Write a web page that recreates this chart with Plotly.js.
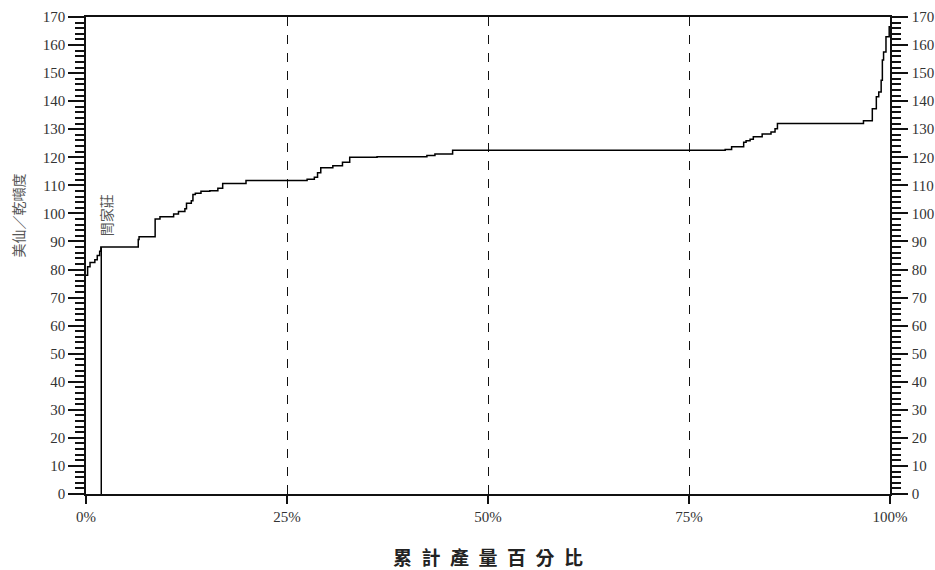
<!DOCTYPE html>
<html>
<head>
<meta charset="utf-8">
<script src="https://cdn.plot.ly/plotly-3.0.1.min.js"></script>
<style>html,body{margin:0;padding:0;background:#fff;}#chart{width:935px;height:570px;}</style>
</head>
<body>
<div id="chart"></div>
<script>
// Cumulative production share (%) where each cost level begins
const cumShare = [0, 0.2, 0.5, 1.1, 1.4, 1.7, 1.85, 6.5, 6.6, 8.6, 9.2, 10.9, 11.5, 12.3, 12.5, 13.1, 13.3, 13.6, 14.3, 15.4, 16.4, 17.0, 19.9, 27.5, 28.4, 28.8, 29.2, 30.7, 31.9, 32.8, 36.2, 42.4, 43.4, 45.6, 79.5, 80.3, 81.8, 82.1, 82.6, 83.0, 84.1, 85.2, 85.7, 86.0, 96.7, 97.8, 98.3, 98.6, 98.9, 99.05, 99.2, 99.5, 99.9, 100];
// Cost (US cents / dmtu)
const cost = [78, 81, 82.5, 83.5, 85, 86.5, 88, 90.7, 91.7, 98, 98.8, 99.8, 100.7, 101.7, 103.6, 104.5, 106.7, 107.2, 107.9, 108.1, 109, 110.7, 111.7, 112.2, 112.9, 114.5, 116.3, 117, 118.2, 120, 120.2, 120.6, 121.2, 122.5, 122.8, 123.8, 125.4, 125.9, 126.4, 127.3, 128.3, 129, 130.2, 132, 133, 137.3, 141.6, 143.3, 147.5, 154.7, 157.5, 163, 166.5, 166.5];
// Highlighted mine
const markerName = '閆家莊';
const markerX = [1.9, 1.9];
const markerY = [0, 88];
// Axis ticks
const xTicks = [0, 25, 50, 75, 100];
const xTickLabels = ['0%', '25%', '50%', '75%', '100%'];
const yTitle = '美仙／乾噸度';
const xTitle = '累計產量百分比';

function tickFont() { return {family: 'Liberation Serif', size: 15, color: '#333'}; }

const traces = [
  {x: cumShare, y: cost, type: 'scatter', mode: 'lines', line: {shape: 'hv', color: '#000', width: 1.5}, hoverinfo: 'skip', showlegend: false},
  {x: markerX, y: markerY, type: 'scatter', mode: 'lines', line: {color: '#000', width: 1.5}, hoverinfo: 'skip', showlegend: false},
  {x: markerX, y: markerY, yaxis: 'y2', type: 'scatter', mode: 'lines', line: {color: 'rgba(0,0,0,0)', width: 0}, hoverinfo: 'skip', showlegend: false}
];

function yAxis(side) {
  return {
    range: [0, 170], dtick: 10, tick0: 0, showgrid: false, zeroline: false,
    showline: true, linecolor: '#111', linewidth: 1.5,
    ticks: 'outside', ticklen: 16, tickwidth: 1.5, tickcolor: '#111',
    minor: {dtick: 2, ticks: 'outside', ticklen: 9, tickwidth: 1.5, tickcolor: '#111', showgrid: false},
    tickfont: tickFont(), side: side
  };
}

const y2 = yAxis('right');
y2.overlaying = 'y';
y2.ticklabelstandoff = 1;

const layout = {
  width: 935, height: 570,
  margin: {l: 86, r: 45, t: 17, b: 76},
  paper_bgcolor: '#fff', plot_bgcolor: '#fff',
  showlegend: false,
  xaxis: {
    range: [0, 100], tickvals: xTicks, ticktext: xTickLabels,
    showgrid: true, gridcolor: '#111', gridwidth: 1.4, griddash: 'dash',
    zeroline: false, showline: true, mirror: true, linecolor: '#111', linewidth: 1.5,
    ticks: 'outside', ticklen: 8, tickwidth: 1.5, tickcolor: '#111',
    tickfont: tickFont()
  },
  yaxis: yAxis('left'),
  yaxis2: y2,
  annotations: [
    {text: yTitle, xref: 'paper', yref: 'paper', x: -0.0846, y: 0.584, xanchor: 'center', yanchor: 'middle',
     textangle: -90, showarrow: false, font: {family: 'Noto Sans CJK TC', size: 14, color: '#555'}},
    {text: xTitle.split('').join('\u2002'), xref: 'paper', yref: 'paper', x: 0.5, y: -0.132, xanchor: 'center', yanchor: 'middle',
     showarrow: false, font: {family: 'Noto Sans CJK TC', size: 19, color: '#222', weight: 'bold'}},
    {text: markerName, xref: 'x', yref: 'y', x: markerX[1], y: markerY[1], xshift: 5, yshift: 32,
     xanchor: 'center', yanchor: 'middle', textangle: -90, showarrow: false,
     font: {family: 'Noto Sans CJK TC', size: 14, color: '#555'}}
  ]
};

Plotly.newPlot('chart', traces, layout, {displayModeBar: false});
</script>
</body>
</html>
